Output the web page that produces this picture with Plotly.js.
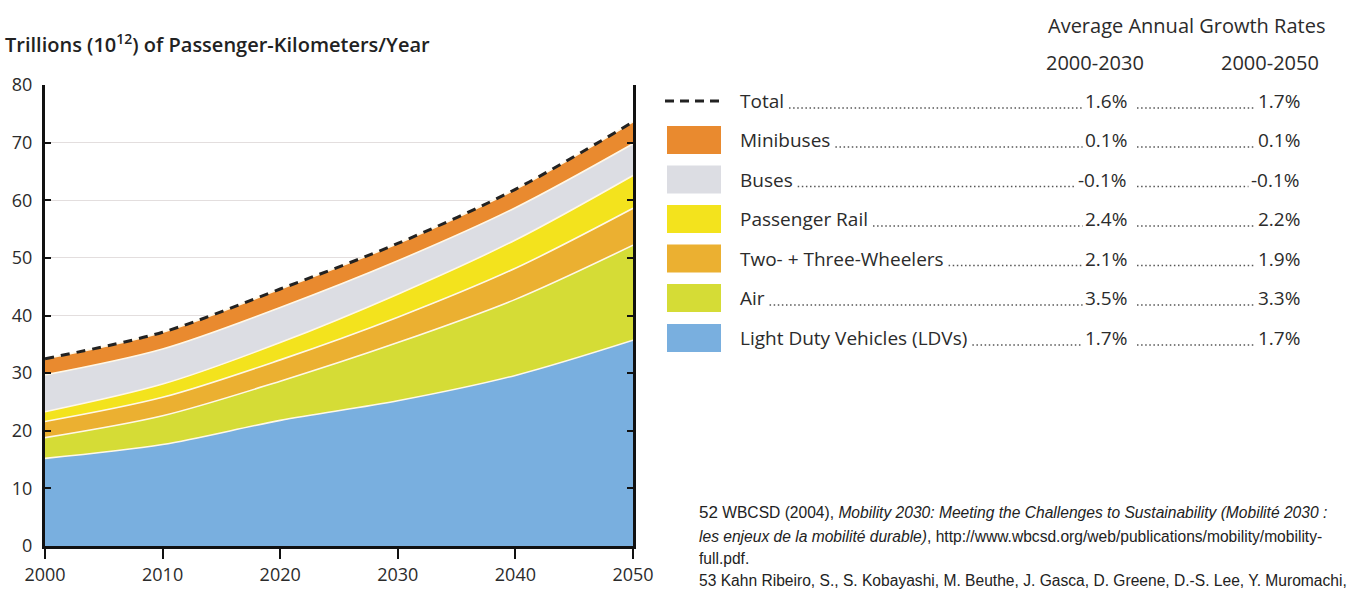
<!DOCTYPE html>
<html>
<head>
<meta charset="utf-8">
<script src="https://cdn.plot.ly/plotly-3.0.1.min.js"></script>
<style>html,body{margin:0;padding:0;background:#fff;}#chart{width:1347px;height:594px;}</style>
</head>
<body>
<div id="chart"></div>
<script>
// ---- data ----
const years = [2000, 2010, 2020, 2030, 2040, 2050];
const ldv       = [15.2, 17.6, 21.8, 25.2, 29.6, 35.7];
const air       = [3.6, 5.0, 6.8, 10.1, 13.2, 16.5];
const twoThree  = [2.8, 3.2, 3.7, 4.4, 5.4, 6.4];
const rail      = [1.7, 2.3, 3.0, 4.0, 4.9, 5.7];
const buses     = [6.4, 6.1, 6.1, 5.8, 5.6, 5.5];
const minibuses = [2.8, 2.9, 3.2, 3.0, 3.2, 3.8];
const total     = [32.5, 37.1, 44.6, 52.5, 61.9, 73.6];

const legendNames = ["Total", "Minibuses", "Buses", "Passenger Rail", "Two- + Three-Wheelers", "Air", "Light Duty Vehicles (LDVs)"];
const rate2030 = ["1.6%", "0.1%", "-0.1%", "2.4%", "2.1%", "3.5%", "1.7%"];
const rate2050 = ["1.7%", "0.1%", "-0.1%", "2.2%", "1.9%", "3.3%", "1.7%"];
const xTickLabels = ["2000", "2010", "2020", "2030", "2040", "2050"];
const yTickVals = [0, 10, 20, 30, 40, 50, 60, 70, 80];

// ---- styles ----
const colors = {
  ldv: "#79afdf", air: "#d5dc36", twoThree: "#ebb031", rail: "#f3e31d",
  buses: "#dcdde3", minibuses: "#e98a2f"
};
const legendColors = [null, colors.minibuses, colors.buses, colors.rail, colors.twoThree, colors.air, colors.ldv];
const FONT = "'Open Sans', Lato, sans-serif";
const LSIZE = 19;
const TXT = "#2b2b2b";

const W = 1347, H = 594;
const L = 45, R = 633, T = 85, B = 546;
const xp = px => (px - L) / (R - L);
const yp = py => (B - py) / (B - T);

// text width measurement for dotted leaders
const cnv = document.createElement("canvas").getContext("2d");
function textW(s, size, family) { cnv.font = size + "px " + family; return cnv.measureText(s).width; }

function area(name, y, color) {
  return {
    x: years, y: y, name: name, type: "scatter", mode: "lines",
    stackgroup: "one", fillcolor: color,
    line: {color: "#fff8e8", width: 1.6, shape: "spline", smoothing: 0.9},
    hoverinfo: "x+y+name"
  };
}

const traces = [
  area("Light Duty Vehicles (LDVs)", ldv, colors.ldv),
  area("Air", air, colors.air),
  area("Two- + Three-Wheelers", twoThree, colors.twoThree),
  area("Passenger Rail", rail, colors.rail),
  area("Buses", buses, colors.buses),
  area("Minibuses", minibuses, colors.minibuses),
  {
    x: years, y: total, name: "Total", type: "scatter", mode: "lines",
    line: {color: "#222", width: 3, dash: "9px,7px", shape: "spline", smoothing: 0.9}
  }
];

// ---- legend table built from shapes + annotations ----
const rowY = [101, 140, 179.5, 219, 258.5, 298, 338];
const shapes = [];
const annotations = [];
const hdrFont = {family: FONT, size: 20, color: TXT};

annotations.push({xref: "paper", yref: "paper", x: xp(1327), y: yp(25), xanchor: "right", yanchor: "middle",
  text: "Average Annual Growth Rates", showarrow: false, font: hdrFont});
annotations.push({xref: "paper", yref: "paper", x: xp(1095), y: yp(63), xanchor: "center", yanchor: "middle",
  text: "2000-2030", showarrow: false, font: hdrFont});
annotations.push({xref: "paper", yref: "paper", x: xp(1270), y: yp(63), xanchor: "center", yanchor: "middle",
  text: "2000-2050", showarrow: false, font: hdrFont});

for (let i = 0; i < legendNames.length; i++) {
  const cy = rowY[i];
  if (i === 0) {
    shapes.push({type: "line", xref: "paper", yref: "paper", x0: xp(665), x1: xp(723), y0: yp(cy), y1: yp(cy),
      line: {color: "#222", width: 3, dash: "9px,6px"}});
  } else {
    shapes.push({type: "rect", xref: "paper", yref: "paper", x0: xp(667), x1: xp(721), y0: yp(cy - 14), y1: yp(cy + 14),
      fillcolor: legendColors[i], line: {width: 0}});
  }
  annotations.push({xref: "paper", yref: "paper", x: xp(738), y: yp(cy), xanchor: "left", yanchor: "middle",
    text: legendNames[i], showarrow: false, font: {family: FONT, size: LSIZE, color: TXT}});
  const v1x = 1129, v2x = 1302;
  annotations.push({xref: "paper", yref: "paper", x: xp(v1x), y: yp(cy), xanchor: "right", yanchor: "middle",
    text: rate2030[i], showarrow: false, font: {family: FONT, size: LSIZE, color: TXT}});
  annotations.push({xref: "paper", yref: "paper", x: xp(v2x), y: yp(cy), xanchor: "right", yanchor: "middle",
    text: rate2050[i], showarrow: false, font: {family: FONT, size: LSIZE, color: TXT}});
  // dotted leaders
  const labEnd = 740 + textW(legendNames[i], LSIZE, "'Open Sans'");
  const v1Start = v1x - textW(rate2030[i], LSIZE, "'Open Sans'");
  const v2Start = v2x - textW(rate2050[i], LSIZE, "'Open Sans'");
  const dotStyle = {color: "#555", width: 1.4, dash: "1.5px,2.6px"};
  shapes.push({type: "line", xref: "paper", yref: "paper", x0: xp(labEnd + 5), x1: xp(v1Start - 4), y0: yp(cy + 7), y1: yp(cy + 7), line: dotStyle});
  shapes.push({type: "line", xref: "paper", yref: "paper", x0: xp(v1x + 8), x1: xp(v2Start - 5), y0: yp(cy + 7), y1: yp(cy + 7), line: dotStyle});
}

// ---- footnotes ----
const FN = "'Liberation Sans', Arial, sans-serif";
const FNS = 15.6;
const fnLines = [
  {y: 512, text: "<span style='font-size:17px'>52</span> WBCSD (2004), <i>Mobility 2030: Meeting the Challenges to Sustainability (Mobilité 2030 :</i>"},
  {y: 536, text: "<i>les enjeux de la mobilité durable)</i>, http://www.wbcsd.org/web/publications/mobility/mobility-"},
  {y: 558, text: "full.pdf."},
  {y: 580, text: "53 Kahn Ribeiro, S., S. Kobayashi, M. Beuthe, J. Gasca, D. Greene, D.-S. Lee, Y. Muromachi,"}
];
fnLines.forEach(f => annotations.push({xref: "paper", yref: "paper", x: xp(697), y: yp(f.y), xanchor: "left", yanchor: "middle",
  text: f.text, showarrow: false, align: "left", font: {family: FN, size: FNS, color: "#222"}}));

const layout = {
  width: W, height: H,
  margin: {l: L, r: W - R, t: T, b: H - B, pad: 0},
  paper_bgcolor: "#fff", plot_bgcolor: "#fff",
  showlegend: false,
  title: {
    text: "Trillions (10<sup>12</sup>) of Passenger-Kilometers/Year",
    xref: "container", yref: "container", x: 5 / W, xanchor: "left", y: 1 - 45 / H, yanchor: "middle",
    font: {family: FONT, size: 20, color: "#222", weight: 600}
  },
  xaxis: {
    range: [2000, 2050], tickvals: years, ticktext: xTickLabels,
    showgrid: false, zeroline: false,
    showline: true, linecolor: "#111", linewidth: 3,
    ticks: "outside", ticklen: 10, tickwidth: 2, tickcolor: "#111",
    tickfont: {family: FONT, size: 18, color: TXT}
  },
  yaxis: {
    range: [0, 80], tickvals: yTickVals,
    showgrid: true, gridcolor: "#e3dede", gridwidth: 1, zeroline: false,
    showline: true, linecolor: "#111", linewidth: 3, mirror: "ticks",
    ticks: "inside", ticklen: 6, tickwidth: 2, tickcolor: "#111",
    tickfont: {family: FONT, size: 18, color: TXT}, ticklabelstandoff: 6
  },
  shapes: shapes,
  annotations: annotations
};

Plotly.newPlot("chart", traces, layout, {staticPlot: true, displayModeBar: false});
</script>
</body>
</html>
